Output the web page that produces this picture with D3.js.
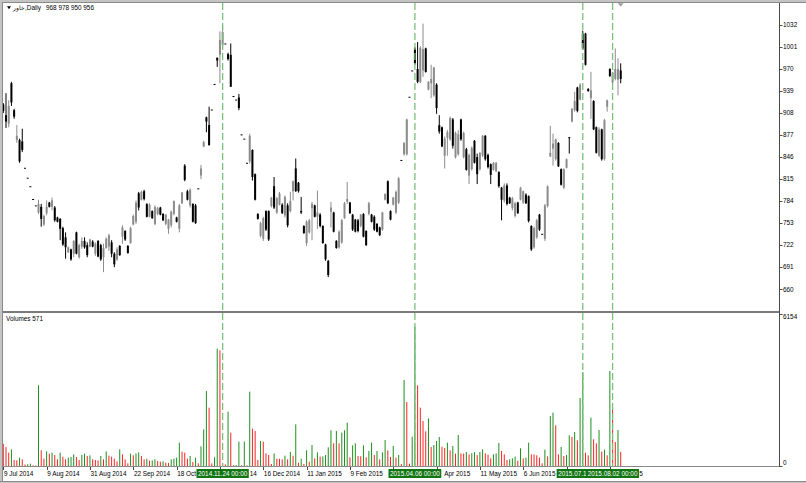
<!DOCTYPE html>
<html><head><meta charset="utf-8">
<script src="https://cdn.jsdelivr.net/npm/d3@7"></script>
<style>
html,body{margin:0;padding:0;background:#fff;overflow:hidden;}
svg{display:block;}
text{font-family:"Liberation Sans",Arial,sans-serif;}
</style>
</head><body>
<svg id="c" width="806" height="483"></svg>
<script>
const symbol = "خاور";
const period = "Daily";

const opens = [920,905,893,950,912,870,870,868,831,817,805,787,778,768,776,751,767,782,776,775,
761,759,746,733,712,716,710,740,705,720,728,722,720,727,710,728,722,705,718,720,
726,710,702,721,734,742,721,725,751,755,795,786,798,780,762,770,752,766,775,766,
752,745,750,766,761,745,781,834,798,778,780,778,802,820,861,902,891,913,949,986,
990,1004,1006,991,990,932,927,930,878,872,838,840,856,822,766,735,731,770,770,777,
805,768,779,779,764,778,770,798,830,810,770,749,725,740,774,778,762,765,749,723,
700,769,768,728,719,726,760,783,782,765,758,757,749,766,742,766,765,762,752,747,
744,786,812,770,779,768,782,842,850,850,931,968,999,970,952,968,999,941,950,933,
948,891,888,848,873,871,899,846,850,899,846,857,820,829,869,846,829,848,876,849,
836,828,826,825,803,785,806,789,774,763,782,786,782,793,791,749,719,733,765,738,
731,777,847,858,843,866,829,803,831,874,896,912,944,927,1020,1020,942,929,925,888,
848,885,843,917,970,951,956,955,968];

const highs = [922,936,926,952,914,891,872,886,831,817,805,787,778,786,780,765,785,783,789,777,
762,760,748,740,720,717,729,741,724,733,733,726,731,729,726,729,724,724,733,738,
729,712,719,722,750,743,722,748,765,785,797,799,800,781,781,771,778,776,776,767,
766,759,771,785,762,780,797,836,800,802,781,780,802,835,869,903,917,913,949,986,
1023,1030,1006,993,1006,932,927,935,878,872,838,879,857,823,767,755,762,771,771,790,
818,790,797,781,792,781,797,813,844,811,790,750,757,759,783,779,799,767,750,724,
701,783,769,729,743,759,783,811,783,766,759,759,766,767,743,783,766,764,753,748,
769,795,813,771,790,799,818,842,867,900,931,968,1001,1008,1002,1034,1000,953,976,973,
950,905,889,875,884,903,901,882,884,900,882,859,851,861,870,851,853,877,877,851,
837,839,839,826,804,809,809,790,790,783,783,804,799,795,792,750,748,759,766,738,
780,806,890,879,872,867,830,830,844,874,915,938,945,950,1024,1021,943,966,926,889,
888,886,900,927,971,966,999,985,978];

const lows = [908,887,888,918,900,866,838,853,831,817,805,787,778,766,748,749,764,775,771,755,
754,729,721,703,711,700,705,709,703,717,717,705,719,719,707,705,700,684,717,714,
705,691,700,707,724,728,710,724,750,752,771,785,785,761,761,759,750,764,764,756,
750,738,747,764,754,740,780,812,785,775,754,752,802,815,860,881,862,913,949,973,
950,1000,1006,982,945,932,927,912,878,872,838,837,813,785,758,733,728,742,728,775,
773,766,778,766,761,747,768,785,797,796,766,738,721,738,729,761,745,747,724,700,
677,747,740,717,717,724,759,780,766,742,740,740,747,733,721,764,754,742,740,735,
742,785,780,757,778,766,780,842,848,848,931,968,976,950,950,959,965,940,929,931,
907,879,860,830,848,869,858,844,848,869,844,827,808,827,837,808,827,846,841,830,
808,827,825,803,757,782,778,780,771,761,766,785,780,780,754,714,717,731,742,738,
728,775,846,834,841,832,806,801,830,851,895,910,909,926,997,975,938,900,884,851,
846,841,841,910,959,950,954,933,950];

const closes = [911,896,918,923,903,876,840,856,831,817,805,787,778,780,759,763,776,776,785,757,
755,745,723,719,719,702,728,710,722,728,719,708,730,720,724,706,702,718,731,736,
710,695,716,708,747,730,711,746,763,782,775,797,787,762,779,760,776,774,765,757,
765,758,769,784,755,778,796,814,786,800,755,753,802,830,867,896,863,913,949,982,
1011,1022,1006,984,945,932,927,915,878,872,838,876,818,786,759,753,760,744,730,789,
775,788,795,767,790,750,784,812,798,798,768,739,755,757,780,762,768,749,725,702,
680,775,741,718,741,757,781,787,767,744,741,742,765,734,722,781,755,744,741,736,
768,794,781,758,789,797,816,842,866,899,931,968,978,952,1000,998,966,952,956,972,
915,882,861,872,881,901,862,880,878,871,880,828,849,859,838,822,852,876,843,832,
821,838,838,805,786,806,780,781,788,781,767,803,798,781,756,716,746,757,744,738,
778,805,852,865,871,833,807,829,843,873,914,925,911,948,999,976,939,940,885,852,
885,843,898,926,960,965,970,970,956];

const volumes = [900,770,540,675,243,230,338,270,60,70,95,27,20,3267,635,297,594,500,540,446,
270,540,378,270,338,365,473,365,243,446,500,405,432,270,243,230,405,270,594,419,
378,297,189,675,473,270,108,500,432,513,554,405,270,297,216,225,270,203,176,189,
135,125,270,300,338,945,580,540,297,405,162,338,108,797,1485,3038,2363,108,351,4752,
4685,100,68,2200,1350,30,40,986,30,990,30,3010,1512,1418,243,1013,986,513,446,81,
513,297,290,270,419,270,567,419,1688,135,297,81,635,176,851,311,554,378,392,446,
756,1445,918,1418,918,1350,1445,1755,351,837,918,405,395,837,351,608,945,446,608,270,
554,1053,635,365,810,338,446,81,3483,2592,95,1188,5643,3267,2363,1823,1404,1931,770,851,
1013,1175,783,729,945,635,810,500,1256,513,505,567,470,520,560,446,567,675,513,459,
311,473,513,932,608,473,243,270,311,378,216,716,311,338,945,473,465,432,338,108,
662,392,2025,2160,1647,473,770,405,446,1242,1175,1377,1040,2754,3800,540,432,1958,1080,918,
1458,580,662,432,3848,2336,972,1458,571];

const priceTicks = [660,691,722,753,784,815,846,877,908,939,970,1001,1032];
const volumeTicks = [0,6154];

const timeLabelIdx = [0,16,32,48,64,80,96,112,128,144,160,176,192,208,224];
const timeLabels = ["9 Jul 2014","9 Aug 2014","31 Aug 2014","22 Sep 2014","18 Oct 2014","22 Nov 2014",
  "16 Dec 2014","11 Jan 2015","9 Feb 2015","3 Mar 2015","13 Apr 2015","11 May 2015","6 Jun 2015",
  "1 Jul 2015","1 Aug 2015"];

const markerIdx = [81,152,214,225];
const markerLabels = ["2014.11.24 00:00","2015.04.06 00:00","2015.07.11 00:00","2015.08.02 00:00"];

// ---------- layout ----------
const svg = d3.select("#c");
const axisX = 779;
const mainTop = 3, mainBottom = 311;
const volTop = 313, volBottom = 466.5;
const fs = 6.4;
const bullCol = "#8c8c8c", bearCol = "#000000";
const upVol = "#1f8f1f", downVol = "#ff2323";
const markerCol = "#7cbf7c", boxCol = "#117511";
const timeBase = 476;

const n = closes.length;
const x = d3.scaleLinear().domain([0, n - 1]).range([3.3, 620.7]);
const y = d3.scaleLinear().domain([660, 1032]).range([289.2, 25]);
const yv = d3.scaleLinear().domain([0, 6154]).range([466, 314]);

svg.append("rect").attr("width", 806).attr("height", 483).attr("fill", "#fff");

// window frame
svg.append("rect").attr("x",0).attr("y",0).attr("width",806).attr("height",2).attr("fill","#c4c4c4");
svg.append("rect").attr("x",0).attr("y",0).attr("width",2).attr("height",483).attr("fill","#c4c4c4");
svg.append("line").attr("x1",2).attr("x2",806).attr("y1",2.5).attr("y2",2.5).attr("stroke","#8a8a8a");
svg.append("line").attr("x1",2.5).attr("x2",2.5).attr("y1",2).attr("y2",482).attr("stroke","#8a8a8a");
svg.append("line").attr("x1",0).attr("x2",806).attr("y1",481.5).attr("y2",481.5).attr("stroke","#8a8a8a");
svg.append("rect").attr("x",0).attr("y",482).attr("width",806).attr("height",1).attr("fill","#c4c4c4");

const defs = svg.append("defs");
defs.append("clipPath").attr("id","mainClip").append("rect")
  .attr("x",3).attr("y",mainTop).attr("width",axisX-3).attr("height",mainBottom-mainTop);
defs.append("clipPath").attr("id","volClip").append("rect")
  .attr("x",3).attr("y",volTop).attr("width",axisX-3).attr("height",volBottom-volTop);

const idx = d3.range(n);
const isBull = i => closes[i] > opens[i];

// candles
const cg = svg.append("g").attr("clip-path","url(#mainClip)");
cg.selectAll("line.wick").data(idx).join("line").attr("class","wick")
  .attr("x1", i => x(i)).attr("x2", i => x(i))
  .attr("y1", i => y(highs[i])).attr("y2", i => y(lows[i]))
  .attr("stroke", i => isBull(i) ? bullCol : bearCol).attr("stroke-width", 1);
cg.selectAll("rect.body").data(idx).join("rect").attr("class","body")
  .attr("x", i => x(i) - 1).attr("width", 2)
  .attr("y", i => y(Math.max(opens[i], closes[i])))
  .attr("height", i => Math.max(1, Math.abs(y(opens[i]) - y(closes[i]))))
  .attr("fill", i => isBull(i) ? bullCol : bearCol);

// volumes
const vg = svg.append("g").attr("clip-path","url(#volClip)");
vg.selectAll("rect").data(idx).join("rect")
  .attr("x", i => x(i) - 0.5).attr("width", 1)
  .attr("y", i => yv(volumes[i])).attr("height", i => yv(0) - yv(volumes[i]))
  .attr("fill", i => (i > 0 && volumes[i] > volumes[i-1]) ? upVol : downVol);

// panel borders
svg.append("rect").attr("x",3).attr("y",311).attr("width",axisX-3).attr("height",2).attr("fill","#7a7a7a");
svg.append("line").attr("x1",3).attr("x2",axisX).attr("y1",volBottom).attr("y2",volBottom).attr("stroke","#8a8a8a");
svg.append("line").attr("x1",axisX+0.5).attr("x2",axisX+0.5).attr("y1",3).attr("y2",467).attr("stroke","#4a4a4a");

// vertical marker lines
svg.selectAll("line.marker").data(markerIdx).join("line").attr("class","marker")
  .attr("x1", d => x(d)).attr("x2", d => x(d))
  .attr("y1", 3).attr("y2", 467)
  .attr("stroke", markerCol).attr("stroke-width", 1.3).attr("stroke-dasharray", "7,3");

// price axis
const pa = svg.append("g");
pa.selectAll("line").data(priceTicks).join("line")
  .attr("x1", axisX).attr("x2", axisX + 3.5)
  .attr("y1", d => Math.round(y(d)) + 0.5).attr("y2", d => Math.round(y(d)) + 0.5)
  .attr("stroke", "#4a4a4a");
pa.selectAll("text").data(priceTicks).join("text")
  .attr("x", axisX + 4).attr("y", d => y(d) + 2.3)
  .attr("font-size", fs).attr("fill", "#000").text(d => d);

// volume axis
const va = svg.append("g");
va.selectAll("line").data(volumeTicks).join("line")
  .attr("x1", axisX).attr("x2", axisX + 3.5)
  .attr("y1", d => Math.round(yv(d)) + 0.5).attr("y2", d => Math.round(yv(d)) + 0.5)
  .attr("stroke", "#4a4a4a");
va.selectAll("text").data(volumeTicks).join("text")
  .attr("x", axisX + 4).attr("y", d => d === 0 ? yv(d) - 1 : yv(d) + 4.6)
  .attr("font-size", fs).attr("fill", "#000").text(d => d);

// helper: draw only the characters of a label that are not covered by boxes
function drawVisible(parent, str, x0, yb, fill, covers) {
  const t = parent.append("text").attr("x", x0).attr("y", yb).attr("font-size", fs).text(str);
  const node = t.node();
  const runs = [];
  let cur = null;
  for (let i = 0; i < str.length; i++) {
    const s = x0 + (i > 0 ? node.getSubStringLength(0, i) : 0);
    const e = s + node.getSubStringLength(i, 1);
    const hidden = covers.some(c => e > c[0] + 0.4 && s < c[1] - 0.4);
    if (!hidden) {
      if (!cur) { cur = { start: s, text: "" }; runs.push(cur); }
      cur.text += str[i];
    } else cur = null;
  }
  t.remove();
  runs.forEach(r => {
    const lead = r.text.length - r.text.trimStart().length;
    const txt = r.text.trim();
    if (!txt) return;
    let sx = r.start;
    if (lead) {
      const tmp = parent.append("text").attr("font-size", fs).text(r.text.slice(0, lead));
      sx += tmp.node().getComputedTextLength(); tmp.remove();
    }
    parent.append("text").attr("x", sx).attr("y", yb).attr("font-size", fs).attr("fill", fill).text(txt);
  });
}

// measure marker boxes
const boxes = markerIdx.map((d, k) => {
  const tmp = svg.append("text").attr("font-size", fs).text(markerLabels[k]);
  const tw = tmp.node().getComputedTextLength(); tmp.remove();
  const w = tw + 3;
  return { x0: x(d) - w / 2, x1: x(d) + w / 2, tx: x(d) - tw / 2, label: markerLabels[k] };
});
const boxCovers = boxes.map(b => [b.x0, b.x1]);

// time axis
const ta = svg.append("g");
ta.selectAll("line").data(timeLabelIdx).join("line")
  .attr("x1", d => Math.round(x(d)) + 0.5).attr("x2", d => Math.round(x(d)) + 0.5)
  .attr("y1", 467).attr("y2", 470).attr("stroke", "#4a4a4a");
timeLabelIdx.forEach((d, k) => drawVisible(ta, timeLabels[k], x(d) + 0.6, timeBase, "#000", boxCovers));

// marker time boxes (later boxes drawn over earlier ones)
boxes.forEach((b, k) => {
  const g = svg.append("g");
  g.append("rect").attr("x", b.x0).attr("y", 469).attr("width", b.x1 - b.x0).attr("height", 9).attr("fill", boxCol);
  drawVisible(g, b.label, b.tx, timeBase, "#fff", boxCovers.slice(k + 1));
});

// titles
const last = n - 1;
svg.append("path").attr("d","M7,6.2L11,6.2L9,9.2Z").attr("fill","#000");
svg.append("text").attr("x", 13).attr("y", 10.3).attr("font-size", fs).attr("fill","#000")
  .text(symbol + "," + period);
svg.append("text").attr("x", 46).attr("y", 10.3).attr("font-size", fs).attr("fill","#000")
  .text([opens[last], highs[last], lows[last], closes[last]].join(" "));
svg.append("text").attr("x", 6).attr("y", 320.8).attr("font-size", fs).attr("fill","#000")
  .text("Volumes " + volumes[last]);

// shift marker triangle
svg.append("path").attr("d", `M${x(last)-3},3.2L${x(last)+3},3.2L${x(last)},6.4Z`).attr("fill","#9a9a9a");
</script>
</body></html>
